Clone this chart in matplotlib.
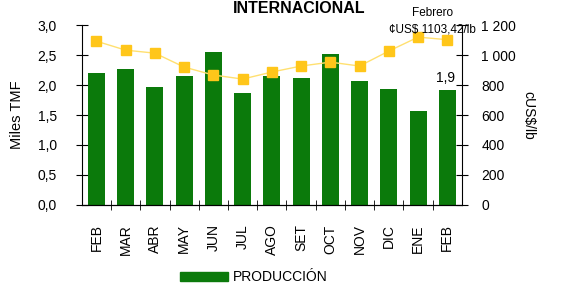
import matplotlib
matplotlib.use("Agg")
import matplotlib.pyplot as plt
from matplotlib.patches import Patch

plt.rcParams["font.family"] = ["Liberation Sans", "DejaVu Sans"]

MONTHS = ["FEB", "MAR", "ABR", "MAY", "JUN", "JUL", "AGO", "SET", "OCT", "NOV", "DIC", "ENE", "FEB"]
PRODUCCION = [2.20, 2.27, 1.97, 2.15, 2.55, 1.87, 2.15, 2.12, 2.52, 2.07, 1.93, 1.57, 1.92]
PRECIO = [1093, 1033, 1013, 920, 867, 840, 887, 927, 953, 927, 1027, 1120, 1103]

GREEN = "#0b7a0b"
GOLD = "#ffc61a"

fig = plt.figure(figsize=(5.76, 2.89), dpi=100)
ax = fig.add_axes([0.142, 0.291, 0.660, 0.622])
x = list(range(len(MONTHS)))
ax.bar(x, PRODUCCION, width=0.58, color=GREEN, zorder=2)
ax.set_xlim(-0.5, len(MONTHS) - 0.5)
ax.set_ylim(0, 3.0)
ax.set_yticks([0, 0.5, 1.0, 1.5, 2.0, 2.5, 3.0])
ax.set_yticklabels(["0,0", "0,5", "1,0", "1,5", "2,0", "2,5", "3,0"], fontsize=10)
ax.set_ylabel("Miles TMF", fontsize=10.5, labelpad=10)
ax.set_xticks(x)
ax.set_xticklabels(MONTHS, rotation=90, fontsize=10)
ax.tick_params(axis="x", length=0, pad=14)
ax.set_xticks([i + 0.5 for i in x[:-1]], minor=True)
ax.tick_params(axis="x", which="minor", direction="inout", length=7)
ax.tick_params(axis="y", direction="inout", length=8, pad=14)
for s in ["top", "right"]:
    ax.spines[s].set_visible(False)

ax2 = ax.twinx()
ax2.plot(x, PRECIO, color="#ffe070", lw=1, marker="s", ms=6.5,
         mfc=GOLD, mec=GOLD, zorder=3)
ax2.set_ylim(0, 1200)
ax2.set_yticks([0, 200, 400, 600, 800, 1000, 1200])
ax2.set_yticklabels(["0", "200", "400", "600", "800", "1 000", "1 200"], fontsize=10)
ax2.tick_params(axis="y", direction="inout", length=8, pad=10)
ax2.set_ylabel("cUS$/lb", fontsize=10, rotation=-90, labelpad=14)
for s in ["top", "left"]:
    ax2.spines[s].set_visible(False)

ax.text(x[-1] + 0.25, PRODUCCION[-1] + 0.08, "1,9", ha="right", va="bottom", fontsize=10)
ax2.text(x[-2] + 0.5, 1280, "Febrero", ha="center", va="center", fontsize=8.5)
ax2.text(x[-2] + 0.5, 1170, "¢US$ 1103,42/lb", ha="center", va="center", fontsize=8.5)

fig.text(0.52, 0.997, "INTERNACIONAL", ha="center", va="top", fontsize=11.5, fontweight="bold")

fig.legend(handles=[Patch(color=GREEN, label="PRODUCCIÓN")], loc="center",
           bbox_to_anchor=(0.44, 0.04), frameon=False, fontsize=10,
           handlelength=3.5, handleheight=0.6, handletextpad=0.3)

fig.savefig("out.png", dpi=100)
